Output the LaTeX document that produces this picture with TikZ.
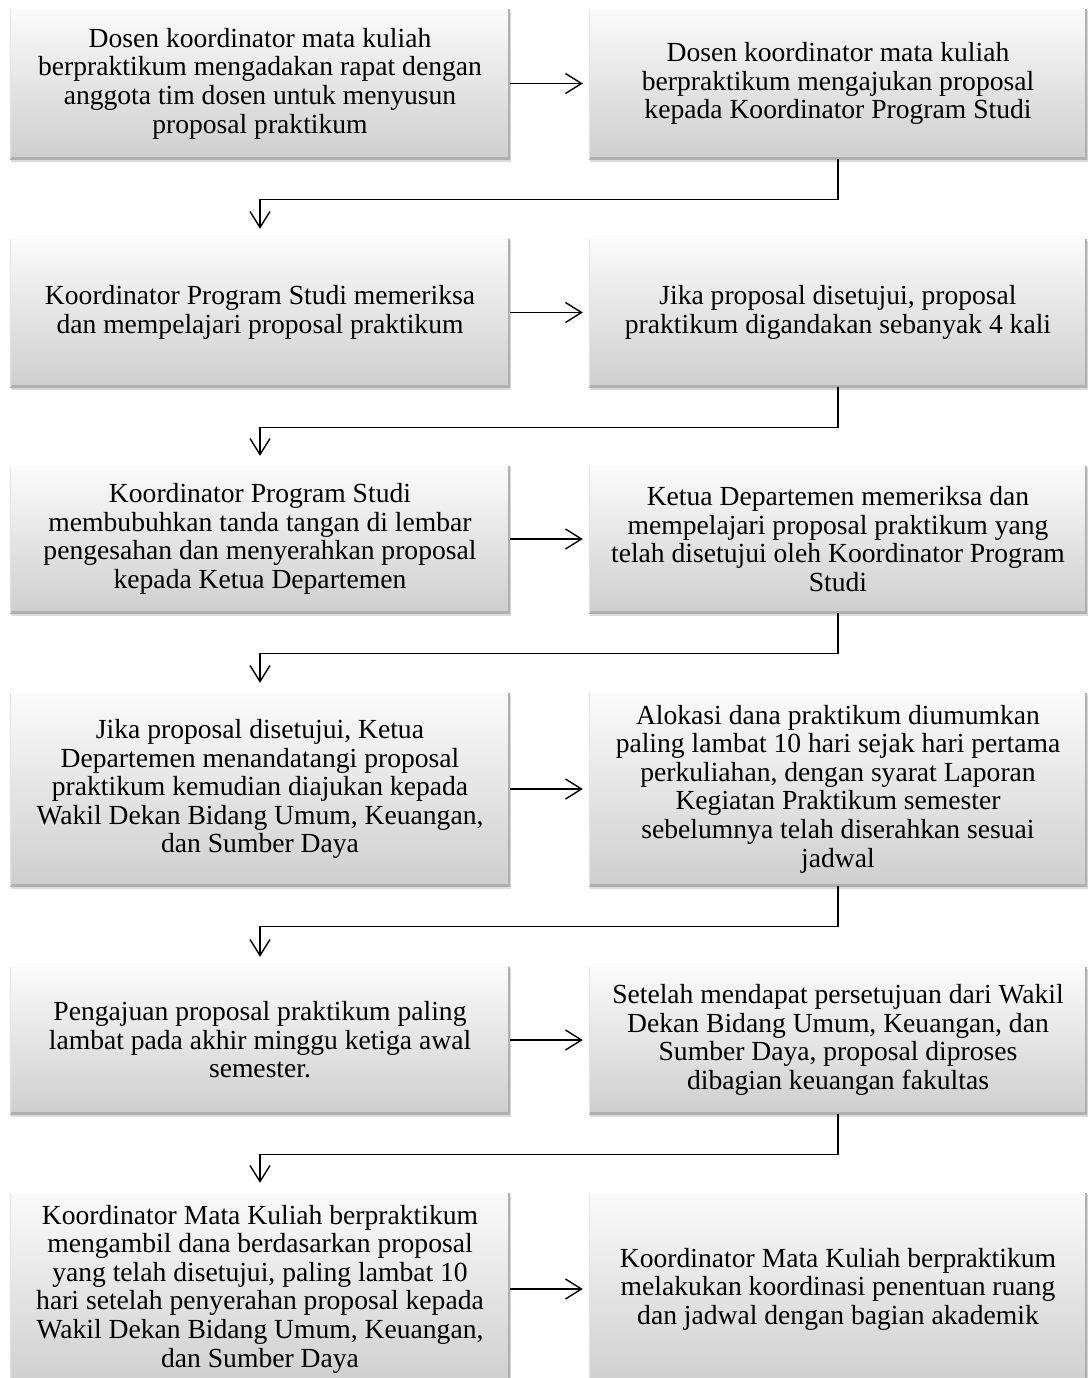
\documentclass[tikz,border=0pt]{standalone}
\usepackage{fontspec}
\setmainfont{Liberation Serif}
\usetikzlibrary{arrows.meta,shadows}
\tikzset{
  box/.style={rectangle, draw=none, top color=gray!3, bottom color=gray!38,
    align=center, inner sep=0pt, text=black,
    font=\fontsize{27.6}{28.6}\selectfont,
    drop shadow={shadow xshift=1pt, shadow yshift=-3pt, opacity=0.35, fill=gray!80},
    path picture={
      \draw[gray!62, line width=3.5pt] (path picture bounding box.north east) -- (path picture bounding box.south east) -- (path picture bounding box.south west);
      \draw[gray!22, line width=2pt] (path picture bounding box.south west) -- (path picture bounding box.north west);
      \draw[white, line width=2.5pt] (path picture bounding box.north west) -- (path picture bounding box.north east);
    }},
  lbox/.style={box, minimum width=500pt},
  rbox/.style={box, minimum width=498pt},
  conn/.style={draw=black, line width=1.4pt, -{Straight Barb[length=16pt,width=20pt,line width=1.4pt]}},
}
\begin{document}
\begin{tikzpicture}[x=1pt,y=-1pt]
\useasboundingbox (0,0) rectangle (1088,1378);
\clip (0,0) rectangle (1088,1378);

% row 1
\node[lbox, minimum height=151pt] (L1) at (260,83.5) {Dosen koordinator mata kuliah\\berpraktikum mengadakan rapat dengan\\anggota tim dosen untuk menyusun\\proposal praktikum};
\node[rbox, minimum height=151pt] (R1) at (838,83.5) {Dosen koordinator mata kuliah\\berpraktikum mengajukan proposal\\kepada Koordinator Program Studi};
% row 2
\node[lbox, minimum height=149pt] (L2) at (260,312.5) {Koordinator Program Studi memeriksa\\dan mempelajari proposal praktikum};
\node[rbox, minimum height=149pt] (R2) at (838,312.5) {Jika proposal disetujui, proposal\\praktikum digandakan sebanyak 4 kali};
% row 3
\node[lbox, minimum height=148pt] (L3) at (260,539) {Koordinator Program Studi\\membubuhkan tanda tangan di lembar\\pengesahan dan menyerahkan proposal\\kepada Ketua Departemen};
\node[rbox, minimum height=148pt] (R3) at (838,539) {Ketua Departemen memeriksa dan\\mempelajari proposal praktikum yang\\telah disetujui oleh Koordinator Program\\Studi};
% row 4
\node[lbox, minimum height=194pt] (L4) at (260,789) {Jika proposal disetujui, Ketua\\Departemen menandatangi proposal\\praktikum kemudian diajukan kepada\\Wakil Dekan Bidang Umum, Keuangan,\\dan Sumber Daya};
\node[rbox, minimum height=194pt] (R4) at (838,789) {Alokasi dana praktikum diumumkan\\paling lambat 10 hari sejak hari pertama\\perkuliahan, dengan syarat Laporan\\Kegiatan Praktikum semester\\sebelumnya telah diserahkan sesuai\\jadwal};
% row 5
\node[lbox, minimum height=148pt] (L5) at (260,1040) {Pengajuan proposal praktikum paling\\lambat pada akhir minggu ketiga awal\\semester.};
\node[rbox, minimum height=148pt] (R5) at (838,1040) {Setelah mendapat persetujuan dari Wakil\\Dekan Bidang Umum, Keuangan, dan\\Sumber Daya, proposal diproses\\dibagian keuangan fakultas};
% row 6
\node[lbox, minimum height=194pt] (L6) at (260,1289) {Koordinator Mata Kuliah berpraktikum\\mengambil dana berdasarkan proposal\\yang telah disetujui, paling lambat 10\\hari setelah penyerahan proposal kepada\\Wakil Dekan Bidang Umum, Keuangan,\\dan Sumber Daya};
\node[rbox, minimum height=194pt] (R6) at (838,1289) {Koordinator Mata Kuliah berpraktikum\\melakukan koordinasi penentuan ruang\\dan jadwal dengan bagian akademik};

% horizontal arrows
\foreach \i in {1,...,6} {
  \draw[conn, shorten >=6pt] (L\i) -- (R\i);
}
% return connectors
\draw[conn, shorten >=9pt] (R1.south) -- ++(0,40) -| (L2.north);
\draw[conn, shorten >=9pt] (R2.south) -- ++(0,40) -| (L3.north);
\draw[conn, shorten >=9pt] (R3.south) -- ++(0,40) -| (L4.north);
\draw[conn, shorten >=9pt] (R4.south) -- ++(0,40) -| (L5.north);
\draw[conn, shorten >=9pt] (R5.south) -- ++(0,40) -| (L6.north);
\end{tikzpicture}
\end{document}
